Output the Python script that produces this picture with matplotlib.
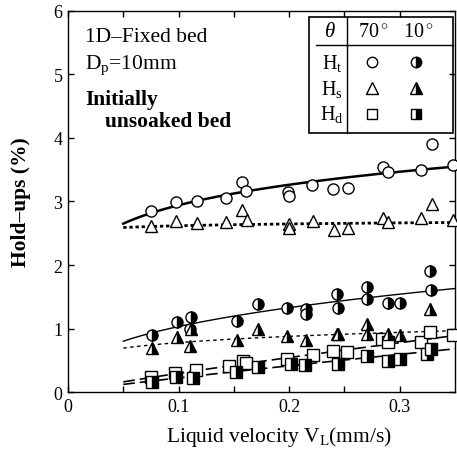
import numpy as np
import matplotlib
matplotlib.use("Agg")
import matplotlib.pyplot as plt
from matplotlib.patches import Rectangle
from matplotlib.lines import Line2D

plt.rcParams['font.family'] = ['Liberation Serif', 'DejaVu Serif']
plt.rcParams['mathtext.fontset'] = 'custom'
plt.rcParams['mathtext.rm'] = 'Liberation Serif'
plt.rcParams['mathtext.it'] = 'Liberation Serif:italic'
plt.rcParams['mathtext.bf'] = 'Liberation Serif:bold'

# theta = 70 deg (open markers)
ht70_x = [0.075, 0.098, 0.117, 0.143, 0.157, 0.161, 0.199, 0.200, 0.221, 0.240, 0.253, 0.285, 0.289, 0.319, 0.329, 0.348]
ht70_y = [2.85, 2.99, 3.00, 3.06, 3.31, 3.17, 3.15, 3.08, 3.26, 3.19, 3.22, 3.54, 3.46, 3.50, 3.90, 3.57]
hs70_x = [0.075, 0.098, 0.117, 0.143, 0.157, 0.162, 0.200, 0.200, 0.222, 0.241, 0.253, 0.285, 0.289, 0.319, 0.329, 0.348]
hs70_y = [2.61, 2.69, 2.66, 2.67, 2.86, 2.71, 2.65, 2.59, 2.70, 2.55, 2.58, 2.74, 2.68, 2.74, 2.96, 2.71]
hd70_x = [0.075, 0.097, 0.116, 0.146, 0.158, 0.161, 0.198, 0.222, 0.240, 0.252, 0.284, 0.289, 0.319, 0.327, 0.348]
hd70_y = [0.24, 0.30, 0.34, 0.41, 0.49, 0.45, 0.52, 0.58, 0.65, 0.63, 0.83, 0.78, 0.78, 0.94, 0.89]

# theta = 10 deg (half filled markers)
ht10_x = [0.076, 0.099, 0.111, 0.110, 0.153, 0.172, 0.198, 0.215, 0.215, 0.243, 0.244, 0.270, 0.270, 0.289, 0.300, 0.327, 0.328]
ht10_y = [0.89, 1.10, 1.18, 0.99, 1.12, 1.39, 1.33, 1.30, 1.23, 1.54, 1.33, 1.66, 1.46, 1.40, 1.40, 1.91, 1.60]
hs10_x = [0.076, 0.099, 0.111, 0.110, 0.153, 0.172, 0.198, 0.215, 0.243, 0.244, 0.270, 0.270, 0.289, 0.300, 0.327]
hs10_y = [0.70, 0.86, 0.99, 0.73, 0.82, 0.99, 0.88, 0.82, 0.92, 0.91, 1.07, 0.91, 0.91, 0.89, 1.31]
hd10_x = [0.076, 0.098, 0.113, 0.152, 0.172, 0.202, 0.214, 0.244, 0.270, 0.289, 0.300, 0.325, 0.328]
hd10_y = [0.16, 0.23, 0.22, 0.31, 0.39, 0.44, 0.43, 0.44, 0.57, 0.49, 0.52, 0.60, 0.68]

# power-law fit lines y = a * x^b
fit_ht70 = (4.155, 0.150)
fit_hs70 = (2.714, 0.0156)
fit_ht10 = (2.394, 0.366)
fit_hs10 = (1.156, 0.172)
fit_hd70 = (2.245, 0.882)
fit_hd10 = (1.733, 0.891)
fit_range = (0.05, 0.35)

fig = plt.figure(figsize=(4.57, 4.52), dpi=100)
ax = fig.add_axes([0.1488, 0.1305, 0.8468, 0.843])

xf = np.linspace(fit_range[0], fit_range[1], 200)
def curve(p):
    return p[0] * xf ** p[1]

ax.plot(xf, curve(fit_ht70), color='black', lw=1.8)
ax.plot(xf, curve(fit_hs70), color='black', lw=2.0, linestyle=(0, (1.2, 1.0)))
ax.plot(xf, curve(fit_ht10), color='black', lw=1.0)
ax.plot(xf, curve(fit_hs10), color='black', lw=1.0, linestyle=(0, (2.5, 2.5)))
ax.plot(xf, curve(fit_hd70), color='black', lw=1.2, linestyle=(0, (7, 3)))
ax.plot(xf, curve(fit_hd10), color='black', lw=1.2, linestyle=(0, (7, 3)))

open_kw = dict(linestyle='none', markerfacecolor='white', markeredgecolor='black',
               markeredgewidth=1.0, clip_on=False, zorder=3)
half_kw = dict(linestyle='none', fillstyle='right', markerfacecolor='black',
               markerfacecoloralt='white', markeredgecolor='black',
               markeredgewidth=1.0, clip_on=False, zorder=3)
sizes = {'o': 8.0, '^': 9.0, 's': 8.0}

ax.plot(ht70_x, ht70_y, marker='o', markersize=sizes['o'], **open_kw)
ax.plot(hs70_x, hs70_y, marker='^', markersize=sizes['^'], **open_kw)
ax.plot(hd70_x, hd70_y, marker='s', markersize=sizes['s'], **open_kw)
ax.plot(ht10_x, ht10_y, marker='o', markersize=sizes['o'], **half_kw)
ax.plot(hs10_x, hs10_y, marker='^', markersize=sizes['^'], **half_kw)
ax.plot(hd10_x, hd10_y, marker='s', markersize=sizes['s'], **half_kw)

ax.set_xlim(0, 0.35)
ax.set_ylim(0, 6)
ax.set_xticks([0, 0.1, 0.2, 0.3])
ax.set_xticklabels(['0', '0.1', '0.2', '0.3'])
ax.set_xticks([0.05, 0.15, 0.25], minor=True)
ax.set_yticks([0, 1, 2, 3, 4, 5, 6])
ax.tick_params(which='both', direction='in', top=True, right=True,
               length=4, width=1, labelsize=13, pad=4)
for s in ax.spines.values():
    s.set_linewidth(1.0)

ax.set_xlabel('Liquid velocity V$_\\mathrm{L}$(mm/s)', fontsize=15.5)
ax.xaxis.set_label_coords(0.545, -0.085)
ax.set_ylabel('Hold–ups (%)', fontsize=15.5, fontweight='bold')
ax.yaxis.set_label_coords(-0.095, 0.5)

# annotations
ax.text(0.044, 0.934, '1D–Fixed bed', transform=ax.transAxes, fontsize=15.5, va='center')
ax.text(0.044, 0.861, 'D$_\\mathrm{p}$=10mm', transform=ax.transAxes, fontsize=15.5, va='center')
ax.text(0.044, 0.769, 'Initially', transform=ax.transAxes, fontsize=15.5,
        fontweight='bold', va='center')
ax.text(0.0956, 0.711, 'unsoaked bed', transform=ax.transAxes, fontsize=15.5,
        fontweight='bold', va='center')

# legend table
tr = ax.transAxes
ax.add_patch(Rectangle((0.6227, 0.6798), 0.9948 - 0.6227, 0.9843 - 0.6798,
                       transform=tr, fill=False, edgecolor='black', lw=1.2, zorder=5))
ax.add_line(Line2D([0.7217, 0.7217], [0.6798, 0.9843], transform=tr, color='black', lw=1.0, zorder=5))
ax.add_line(Line2D([0.641, 0.9948], [0.9116, 0.9116], transform=tr, color='black', lw=1.0, zorder=5))

ax.text(0.677, 0.945, '$\\theta$', transform=tr, fontsize=15, ha='center', va='center')
ax.text(0.788, 0.945, '70$^\\circ$', transform=tr, fontsize=14.5, ha='center', va='center')
ax.text(0.904, 0.945, '10$^\\circ$', transform=tr, fontsize=14.5, ha='center', va='center')

rows_y = [0.8653, 0.797, 0.7297]
row_labels = ['H$_\\mathrm{t}$', 'H$_\\mathrm{s}$', 'H$_\\mathrm{d}$']
row_markers = ['o', '^', 's']
for yy, lab, mk in zip(rows_y, row_labels, row_markers):
    ax.text(0.683, yy, lab, transform=tr, fontsize=14.5, ha='center', va='center')
    ax.plot([0.786], [yy], marker=mk, markersize=sizes[mk] - 0.5, transform=tr,
            **dict(open_kw, zorder=6))
    ax.plot([0.899], [yy], marker=mk, markersize=sizes[mk] - 0.5, transform=tr,
            **dict(half_kw, zorder=6))

fig.savefig('out.png', dpi=100)
